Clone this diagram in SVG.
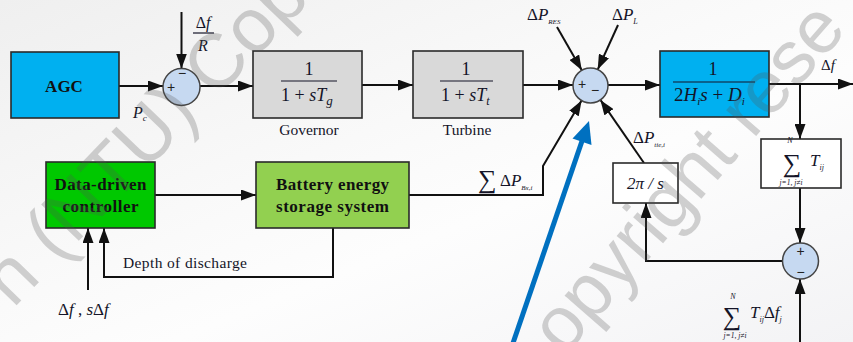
<svg xmlns="http://www.w3.org/2000/svg" width="853" height="342" viewBox="0 0 853 342">
<defs>
<linearGradient id="bg" x1="0" y1="0" x2="1" y2="1">
<stop offset="0" stop-color="#efefef"/>
<stop offset="0.45" stop-color="#fafafa"/>
<stop offset="0.6" stop-color="#fdfdfd"/>
<stop offset="1" stop-color="#f3f3f5"/>
</linearGradient>
<marker id="ah" viewBox="0 0 15 11" refX="15" refY="5.5" markerWidth="15" markerHeight="11" markerUnits="userSpaceOnUse" orient="auto">
<path d="M0,0 L15,5.5 L0,11 z" fill="#111"/>
</marker>
</defs>
<style>
.box{stroke:#2a2a2a;stroke-width:1.6}
.ln{fill:none;stroke:#111;stroke-width:2;marker-end:url(#ah)}
.t{font-family:"Liberation Serif","Times New Roman",serif;fill:#141428}
.m{font-style:italic}
.b{font-weight:bold;fill:#111}
.sum{fill:#c6d9f1;stroke:#444;stroke-width:1.5}
.sg{font-family:"Liberation Sans",Arial,sans-serif;font-size:14px;fill:#222;text-anchor:middle}
.wm{font-family:"Liberation Sans",Arial,sans-serif;fill:#555;opacity:0.26}
</style>
<rect x="0" y="0" width="853" height="342" fill="url(#bg)"/>

<g id="connectors">
<path class="ln" d="M119,86 H163"/>
<path class="ln" d="M181.5,12 V68.5"/>
<path class="ln" d="M200,86 H253"/>
<path class="ln" d="M362,85 H413"/>
<path class="ln" d="M523,85 H573"/>
<path class="ln" d="M608,85 H660"/>
<path class="ln" d="M557,27 L581.8,70.3"/>
<path class="ln" d="M618,25 L597.7,69.6"/>
<path class="ln" d="M769,84 H853"/>
<path class="ln" d="M800,84 V139"/>
<path class="ln" d="M800,188 V243"/>
<path class="ln" d="M782,261 H646 V203"/>
<path class="ln" d="M644,163 L600.4,99.9"/>
<path class="ln" d="M800,342 V279"/>
<path class="ln" d="M155,195 H256"/>
<path class="ln" d="M409,195 H543 V166 L581.6,100.6"/>
<path class="ln" d="M88,290 V228"/>
<path class="ln" d="M333,228 V277 H104 V228"/>
<g id="highlight-arrow">
<line x1="512" y1="346" x2="582" y2="141" stroke="#0070c0" stroke-width="5"/>
<polygon points="589,121 572.5,138.6 591.5,145" fill="#0070c0"/>
</g>
</g>

<g id="agc">
<rect class="box" x="11" y="52" width="108" height="66" fill="#00b0f0"/>
<text class="t b" x="64" y="92" font-size="17" text-anchor="middle">AGC</text>
</g>

<g id="sum1">
<circle class="sum" cx="181.5" cy="87" r="18.5"/>
<text class="sg" x="171" y="92">+</text>
<text class="sg" x="182" y="78">−</text>
</g>

<g id="droop-label">
<text class="t" x="203" y="28" font-size="16" text-anchor="middle">Δ<tspan class="m">f</tspan></text>
<line x1="193" y1="33" x2="214" y2="33" stroke="#141428" stroke-width="1.2"/>
<text class="t m" x="203" y="51" font-size="16" text-anchor="middle">R</text>
</g>
<text class="t m" x="133" y="118" font-size="16">P<tspan font-size="9" dy="3">c</tspan></text>

<g id="governor">
<rect class="box" x="253" y="51" width="109" height="67" fill="#d9d9d9"/>
<text class="t" x="309" y="75" font-size="18" text-anchor="middle">1</text>
<line x1="281" y1="81" x2="337" y2="81" stroke="#141428" stroke-width="1.2"/>
<text class="t" x="281" y="101" font-size="18">1 + <tspan class="m">sT</tspan><tspan class="m" font-size="13" dy="4">g</tspan></text>
<text class="t" x="309" y="135" font-size="15.5" text-anchor="middle" fill="#333">Governor</text>
</g>

<g id="turbine">
<rect class="box" x="413" y="51" width="110" height="67" fill="#d9d9d9"/>
<text class="t" x="466" y="75" font-size="18" text-anchor="middle">1</text>
<line x1="440" y1="81" x2="493" y2="81" stroke="#141428" stroke-width="1.2"/>
<text class="t" x="441" y="101" font-size="18">1 + <tspan class="m">sT</tspan><tspan class="m" font-size="12" dy="4">t</tspan></text>
<text class="t" x="467" y="135" font-size="15.5" text-anchor="middle" fill="#333">Turbine</text>
</g>

<g id="sum2">
<circle class="sum" cx="590.5" cy="85.5" r="17.5"/>
<text class="sg" x="582" y="89" font-size="13">+</text>
<text class="sg" x="595" y="95">−</text>
</g>
<text class="t" x="527" y="20" font-size="17">Δ<tspan class="m">P</tspan><tspan class="m" font-size="7" dy="4">RES</tspan></text>
<text class="t" x="612" y="20" font-size="17">Δ<tspan class="m">P</tspan><tspan class="m" font-size="8" dy="4">L</tspan></text>

<g id="inertia">
<rect class="box" x="660" y="51" width="109" height="66" fill="#00b0f0"/>
<text class="t" x="713" y="75" font-size="18" text-anchor="middle">1</text>
<line x1="673" y1="82" x2="755" y2="82" stroke="#141428" stroke-width="1.2"/>
<text class="t" x="674" y="101" font-size="19">2<tspan class="m">H</tspan><tspan class="m" font-size="11" dy="4">i</tspan><tspan class="m" dy="-4">s</tspan> + <tspan class="m">D</tspan><tspan class="m" font-size="11" dy="4">i</tspan></text>
</g>
<text class="t" x="821" y="70" font-size="15">Δ<tspan class="m">f</tspan></text>

<g id="tie-sum">
<rect class="box" x="761" y="139" width="80" height="49" fill="#ffffff"/>
<text class="t" x="792" y="172" font-size="26" text-anchor="middle">∑</text>
<text class="t m" x="790" y="143" font-size="8" text-anchor="middle">N</text>
<text class="t m" x="791" y="185" font-size="7.5" text-anchor="middle">j=1, j≠i</text>
<text class="t m" x="810" y="166" font-size="17">T<tspan font-size="8" dy="4">ij</tspan></text>
</g>

<g id="sum3">
<circle class="sum" cx="800.5" cy="261" r="18"/>
<text class="sg" x="800.5" y="256">+</text>
<text class="sg" x="800.5" y="277">−</text>
</g>

<g id="integrator">
<rect class="box" x="613" y="163" width="65" height="40" fill="#ffffff"/>
<text class="t m" x="645.5" y="189" font-size="17" text-anchor="middle">2π / s</text>
</g>
<text class="t" x="633" y="143" font-size="17">Δ<tspan class="m">P</tspan><tspan class="m" font-size="7" dy="4">tie,i</tspan></text>

<text class="t" x="478" y="188" font-size="26">∑</text>
<text class="t" x="500" y="186" font-size="17">Δ<tspan class="m">P</tspan><tspan class="m" font-size="7" dy="4">Bx,i</tspan></text>

<text class="t" x="732" y="325" font-size="26" text-anchor="middle">∑</text>
<text class="t m" x="733" y="299" font-size="8" text-anchor="middle">N</text>
<text class="t m" x="735" y="338" font-size="7.5" text-anchor="middle">j=1, j≠i</text>
<text class="t m" x="750" y="318" font-size="17">T<tspan font-size="8" dy="4">ij</tspan><tspan font-style="normal" dy="-4">Δ</tspan>f<tspan font-size="8" dy="4">j</tspan></text>

<g id="data-driven-controller">
<rect class="box" x="46" y="162" width="109" height="66" fill="#00c800"/>
<text class="t b" x="100.5" y="190" font-size="17" text-anchor="middle" textLength="92">Data-driven</text>
<text class="t b" x="100.5" y="212" font-size="17" text-anchor="middle" textLength="76">controller</text>
</g>

<g id="bess">
<rect class="box" x="256" y="162" width="153" height="66" fill="#92d050"/>
<text class="t b" x="332.5" y="190" font-size="17" text-anchor="middle" textLength="113">Battery energy</text>
<text class="t b" x="332.5" y="212" font-size="17" text-anchor="middle" textLength="113">storage system</text>
</g>

<text class="t" x="123" y="268" font-size="15.5" fill="#333" textLength="124">Depth of discharge</text>
<text class="t" x="58" y="315" font-size="17">Δ<tspan class="m">f</tspan> , <tspan class="m">s</tspan>Δ<tspan class="m">f</tspan></text>

<g id="watermark">
<text class="wm" font-size="76" transform="translate(13,309) rotate(-46)">n (NTU) Cop</text>
<text class="wm" font-size="75" transform="translate(564,357) rotate(-49)">opyright rese</text>
</g>
</svg>
